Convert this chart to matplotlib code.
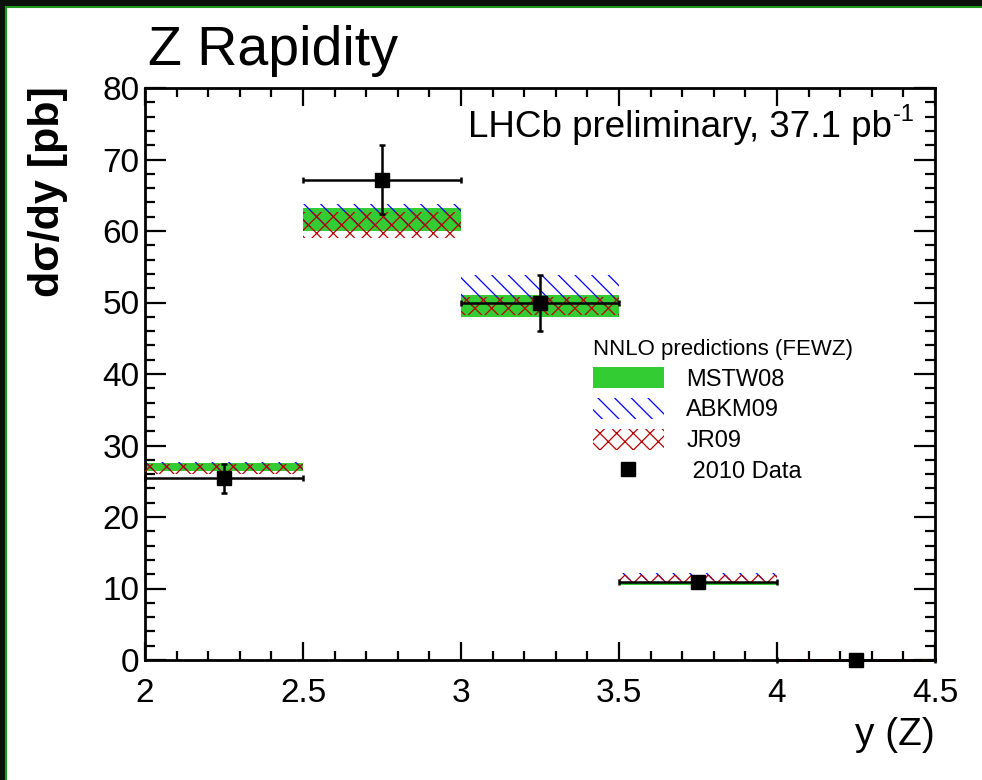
import numpy as np
import matplotlib
matplotlib.use('Agg')
import matplotlib.pyplot as plt
from matplotlib.patches import Patch, Rectangle
from matplotlib.lines import Line2D
from matplotlib.ticker import MultipleLocator

plt.rcParams['font.family'] = ['Liberation Sans', 'DejaVu Sans']
plt.rcParams['hatch.linewidth'] = 0.9

# bins in y(Z)
edges = np.array([2.0, 2.5, 3.0, 3.5, 4.0, 4.5])
xtick_labels = ['2', '2.5', '3', '3.5', '4', '4.5']

# 2010 data, d sigma/dy [pb]
data = np.array([25.4, 67.2, 49.9, 10.9, 0.0])
data_err = np.array([2.0, 4.8, 3.9, 0.7, 0.05])

# NNLO predictions (FEWZ), band low / high
mstw_lo = np.array([26.5, 60.0, 48.0, 10.5, 0.0])
mstw_hi = np.array([27.6, 63.2, 51.0, 10.9, 0.15])
abkm_lo = np.array([26.6, 60.5, 49.5, 11.2, 0.0])
abkm_hi = np.array([27.7, 63.8, 53.8, 12.2, 0.15])
jr_lo = np.array([26.0, 59.0, 48.3, 10.9, 0.0])
jr_hi = np.array([27.4, 62.7, 50.8, 11.9, 0.15])

centers = 0.5 * (edges[:-1] + edges[1:])
widths = np.diff(edges)

green = '#33cc33'
red = '#bb0000'

fig = plt.figure(figsize=(9.82, 7.8), dpi=100, facecolor='#0b100b')
# white canvas with thin green frame (screen-grab border)
fig.add_artist(Rectangle((5.5/982, -0.05), 1.0, 1 - 7/780 + 0.05,
                         transform=fig.transFigure, facecolor='white',
                         edgecolor='#1f9a1f', lw=1.5, zorder=-10))

ax = fig.add_axes([145/982, 1 - 660/780, 790/982, 572/780])

ax.bar(centers, mstw_hi - mstw_lo, bottom=mstw_lo, width=widths,
       color=green, lw=0, zorder=1)
ax.bar(centers, abkm_hi - abkm_lo, bottom=abkm_lo, width=widths,
       facecolor='none', edgecolor='blue', hatch='\\\\', lw=0, zorder=2)
ax.bar(centers, jr_hi - jr_lo, bottom=jr_lo, width=widths,
       facecolor='none', edgecolor=red, hatch='xx', lw=0, zorder=3)

ax.errorbar(centers, data, xerr=widths / 2, yerr=data_err, fmt='s',
            color='black', ms=10, lw=1.8, capsize=2.5, capthick=1.8,
            clip_on=False, zorder=5)

ax.set_xlim(2, 4.5)
ax.set_ylim(0, 80)
ax.set_xticks(edges)
ax.set_xticklabels(xtick_labels)
ax.xaxis.set_minor_locator(MultipleLocator(0.1))
ax.yaxis.set_major_locator(MultipleLocator(10))
ax.yaxis.set_minor_locator(MultipleLocator(2))
ax.tick_params(which='both', direction='in', top=True, right=True,
               width=1.6, labelsize=24)
ax.tick_params(axis='x', which='major', length=13, pad=13)
ax.tick_params(axis='x', which='minor', length=6.5)
ax.tick_params(axis='y', which='major', length=15, pad=4)
ax.tick_params(axis='y', which='minor', length=7.5)
for s in ax.spines.values():
    s.set_linewidth(2)

fig.text(148/982, 1 - 65/780, 'Z Rapidity', fontsize=40, va='baseline')
fig.text(935/982, 1 - 735/780, 'y (Z)', fontsize=28, ha='right', va='center')
fig.text(48/982, 1 - 86/780, 'dσ/dy [pb]', fontsize=31,
         fontweight='bold', rotation=90, ha='center', va='top')
ax.text(0.946, 0.914, 'LHCb preliminary, 37.1 pb',
        transform=ax.transAxes, fontsize=26.5, ha='right', va='baseline')
ax.text(0.947, 0.943, '-1', transform=ax.transAxes, fontsize=17,
        ha='left', va='baseline')

handles = [
    Patch(facecolor=green, lw=0),
    Patch(facecolor='none', edgecolor='blue', hatch='\\\\', lw=0),
    Patch(facecolor='none', edgecolor=red, hatch='xx', lw=0),
    Line2D([], [], marker='s', color='black', ls='none', ms=10),
]
labels = ['MSTW08', 'ABKM09', 'JR09', ' 2010 Data']
ax.legend(handles, labels, title='NNLO predictions (FEWZ)', fontsize=17,
          title_fontsize=16, alignment='left', frameon=False,
          loc='upper left', bbox_to_anchor=(593/982, 1 - 339/780),
          bbox_transform=fig.transFigure, borderpad=0, borderaxespad=0,
          handlelength=3.0, handleheight=1.0, handletextpad=0.95,
          labelspacing=0.3)

fig.savefig('out.png', dpi=100, facecolor=fig.get_facecolor())
